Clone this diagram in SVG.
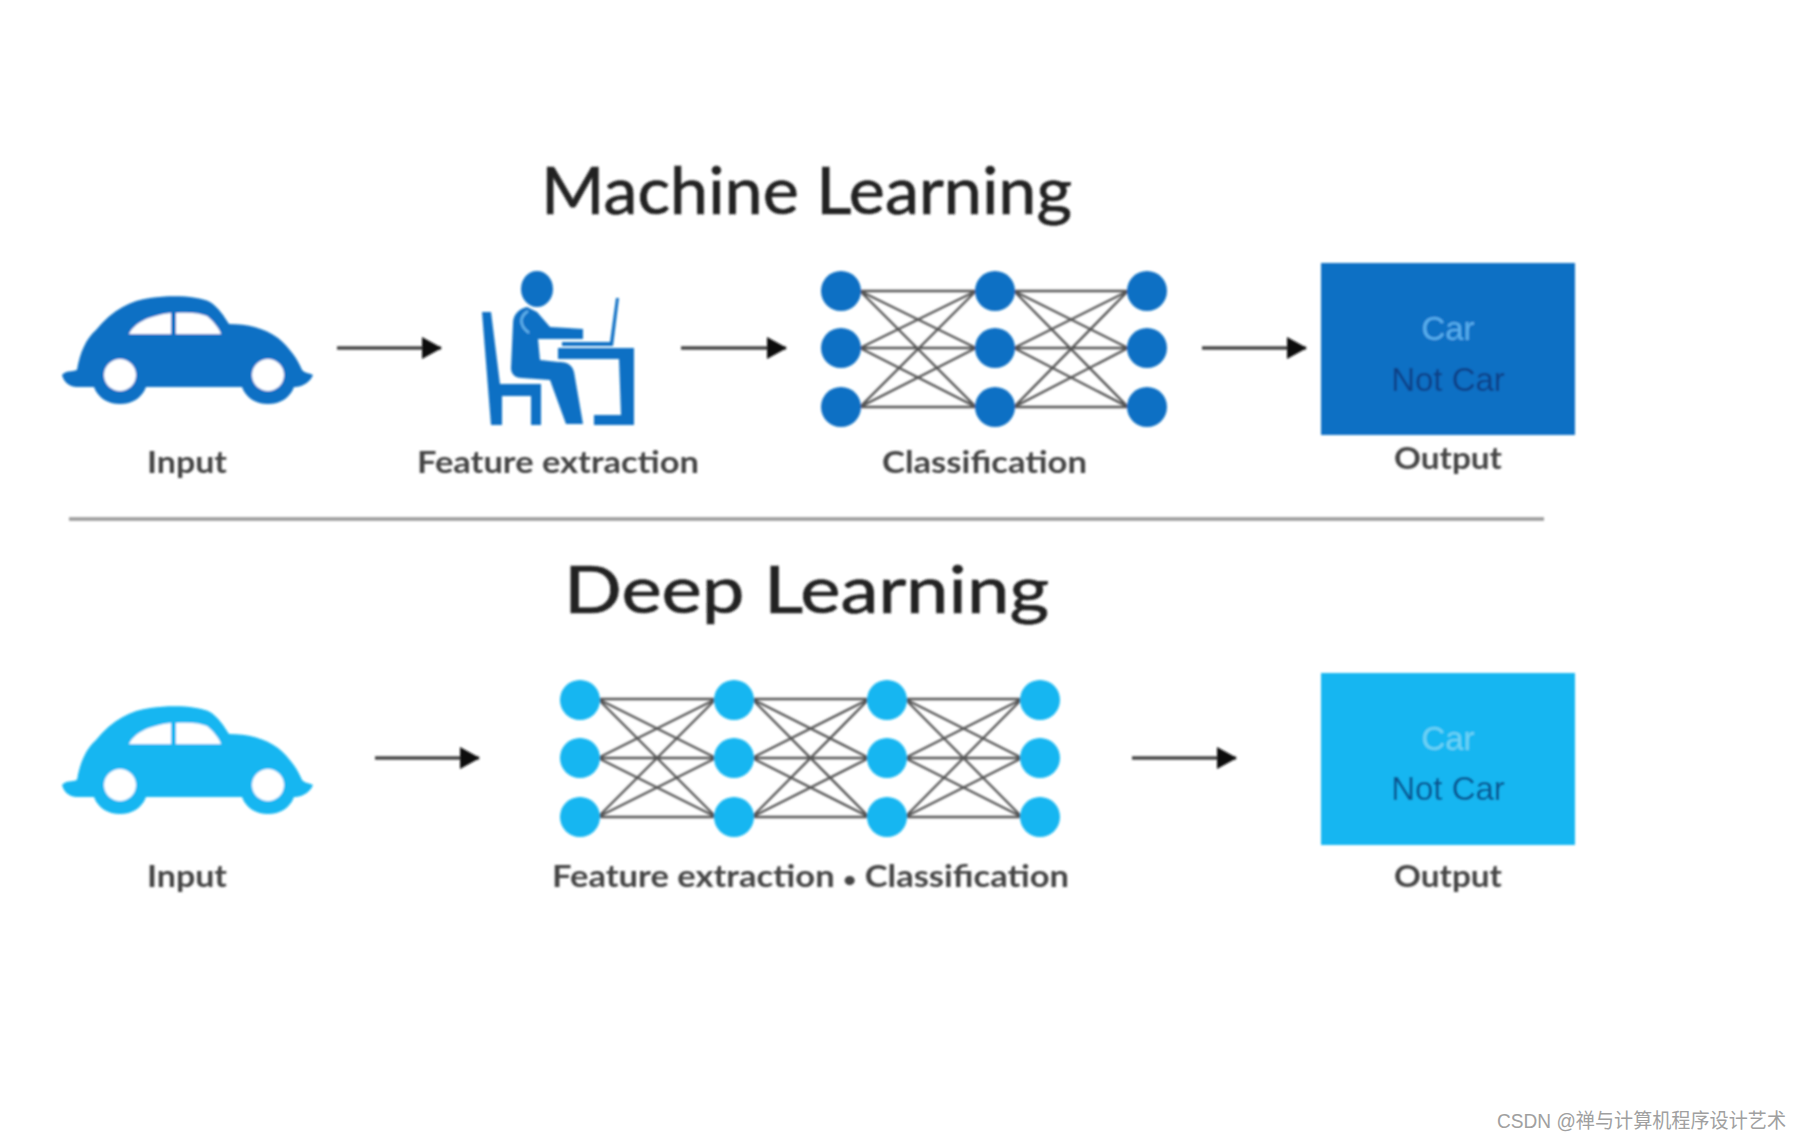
<svg xmlns="http://www.w3.org/2000/svg" xmlns:xlink="http://www.w3.org/1999/xlink" width="1802" height="1139" viewBox="0 0 1802 1139">
<style>
text{font-family:"Lato","Liberation Sans",sans-serif}
.title{font-size:66px;font-weight:400;fill:#222;stroke:#222;stroke-width:0.7}
.lab{font-size:30px;font-weight:700;fill:#444}
.c{text-anchor:middle}
.box{font-family:"Liberation Sans",sans-serif;font-size:33px;text-anchor:middle}
.arrow{fill:none;stroke:#444;stroke-width:3.5;marker-end:url(#head)}
.links{fill:none;stroke:#555;stroke-width:2.4}
.dark{fill:#0b6fc4}
.light{fill:#12b6f1}
.bul{font-size:20px}
</style>
<defs>
<filter id="soft" x="-5%" y="-5%" width="110%" height="110%"><feGaussianBlur stdDeviation="1"/></filter>
<marker id="head" markerUnits="userSpaceOnUse" markerWidth="22" markerHeight="24" refX="19" refY="12" orient="auto"><path d="M0 1L20 12L0 23Z" fill="#111"/></marker>
<g id="car">
<path d="M62 373C66 368 72 370 77 368C80 350 86 337 96 328C112 308 132 298 150 296C172 293 198 294 210 300C218 305 224 314 229 322C248 322 264 326 278 336C290 346 298 358 302 368C306 372 310 371 313 373C310 380 304 384 296 385L294 385C290 396 280 402 268 402C256 402 246 396 242 385L146 385C142 396 132 402 120 402C108 402 98 396 94 385L76 385C68 384 64 380 62 373Z"/>
<circle cx="120" cy="373" r="16" fill="#fff"/>
<circle cx="268" cy="373" r="16" fill="#fff"/>
<path d="M129 332C134 322 146 314 171 311L171 332Z" fill="#fff"/>
<path d="M176 311C190 310 200 311 207 314C213 319 219 326 221 332L176 332Z" fill="#fff"/>
</g>
</defs>
<rect width="1802" height="1139" fill="#fff"/>
<g filter="url(#soft)">
<g id="connectors">
<path class="links" d="M860 291L976 291M860 291L976 348M860 291L976 407M860 348L976 291M860 348L976 348M860 348L976 407M860 407L976 291M860 407L976 348M860 407L976 407"/>
<path class="links" d="M1014 291L1128 291M1014 291L1128 348M1014 291L1128 407M1014 348L1128 291M1014 348L1128 348M1014 348L1128 407M1014 407L1128 291M1014 407L1128 348M1014 407L1128 407"/>
<path class="links" d="M598 699L716 699M598 699L716 758M598 699L716 817M598 758L716 699M598 758L716 758M598 758L716 817M598 817L716 699M598 817L716 758M598 817L716 817"/>
<path class="links" d="M752 699L869 699M752 699L869 758M752 699L869 817M752 758L869 699M752 758L869 758M752 758L869 817M752 817L869 699M752 817L869 758M752 817L869 817"/>
<path class="links" d="M905 699L1022 699M905 699L1022 758M905 699L1022 817M905 758L1022 699M905 758L1022 758M905 758L1022 817M905 817L1022 699M905 817L1022 758M905 817L1022 817"/>
<path class="arrow" d="M337 348L441 348"/>
<path class="arrow" d="M681 348L786 348"/>
<path class="arrow" d="M1202 348L1306 348"/>
<path class="arrow" d="M375 758L479 758"/>
<path class="arrow" d="M1132 758L1236 758"/>
</g>
<g id="ml-title"><text class="title" x="541" y="214" textLength="531" lengthAdjust="spacingAndGlyphs">Machine Learning</text></g>
<g id="ml-input" class="dark"><use href="#car" y="2"/>
<text class="lab c" x="187" y="473" textLength="80" lengthAdjust="spacingAndGlyphs">Input</text></g>
<g id="ml-feature">
<g class="dark">
<ellipse cx="537" cy="289" rx="16" ry="18"/>
<path d="M527 307C518 309 513 315 513 324L511 368C511 374 515 378 522 378L550 380L566 424L583 424L574 372C572 364 566 362 558 362L540 360L538 339L583 339L583 329L550 327L537 312Z"/>
<path d="M482 312L491 312L500 384L541 384L541 425L531 425L531 396L502 396L502 425L491 425Z"/>
<path d="M558 348L634 348L634 425L594 425L594 415L621 415L619 359L558 359Z"/>
<path d="M562 342L610 342L616 298L619 298L613 346L562 346Z"/>
</g>
<path d="M528 311C519 317 519 325 529 333" fill="none" stroke="#62b4ec" stroke-width="2.5"/>
<text class="lab" x="417" y="473" textLength="282" lengthAdjust="spacingAndGlyphs">Feature extraction</text>
</g>
<g id="ml-classification" class="dark">
<circle cx="841" cy="291" r="20"/><circle cx="841" cy="348" r="20"/><circle cx="841" cy="407" r="20"/>
<circle cx="995" cy="291" r="20"/><circle cx="995" cy="348" r="20"/><circle cx="995" cy="407" r="20"/>
<circle cx="1147" cy="291" r="20"/><circle cx="1147" cy="348" r="20"/><circle cx="1147" cy="407" r="20"/>
<text class="lab" x="882" y="473" textLength="205" lengthAdjust="spacingAndGlyphs">Classification</text>
</g>
<g id="ml-output">
<rect class="dark" x="1321" y="263" width="254" height="172"/>
<text class="box" x="1448" y="340" fill="#5ab0ee">Car</text>
<text class="box" x="1448" y="391" fill="#0a3f85">Not Car</text>
<text class="lab c" x="1448" y="469" textLength="108" lengthAdjust="spacingAndGlyphs">Output</text>
</g>
<path id="divider" d="M69 519L1544 519" stroke="#999" stroke-width="3.5" fill="none"/>
<g id="dl-title"><text class="title" x="564" y="613" textLength="485" lengthAdjust="spacingAndGlyphs">Deep Learning</text></g>
<g id="dl-input" class="light"><use href="#car" y="412"/>
<text class="lab c" x="187" y="887" textLength="80" lengthAdjust="spacingAndGlyphs">Input</text></g>
<g id="dl-network" class="light">
<circle cx="580" cy="700" r="20"/><circle cx="580" cy="758" r="20"/><circle cx="580" cy="817" r="20"/>
<circle cx="734" cy="700" r="20"/><circle cx="734" cy="758" r="20"/><circle cx="734" cy="817" r="20"/>
<circle cx="887" cy="700" r="20"/><circle cx="887" cy="758" r="20"/><circle cx="887" cy="817" r="20"/>
<circle cx="1040" cy="700" r="20"/><circle cx="1040" cy="758" r="20"/><circle cx="1040" cy="817" r="20"/>
<text class="lab" x="552" y="887" textLength="517" lengthAdjust="spacingAndGlyphs">Feature extraction <tspan class="bul">•</tspan> Classification</text>
</g>
<g id="dl-output">
<rect class="light" x="1321" y="673" width="254" height="172"/>
<text class="box" x="1448" y="750" fill="#6fd3f5">Car</text>
<text class="box" x="1448" y="800" fill="#0c4f8c">Not Car</text>
<text class="lab c" x="1448" y="887" textLength="108" lengthAdjust="spacingAndGlyphs">Output</text>
</g>
</g>
<text id="watermark" x="1497" y="1128" font-size="20" fill="#a0a0a0" style="font-family:'Liberation Sans','Noto Sans CJK SC',sans-serif" textLength="289" lengthAdjust="spacingAndGlyphs">CSDN @禅与计算机程序设计艺术</text>
</svg>
